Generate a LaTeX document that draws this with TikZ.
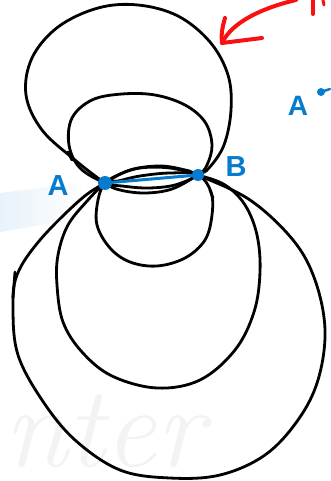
\documentclass[tikz,border=0pt]{standalone}
\usepackage{fontspec}
\setsansfont{Liberation Sans}
\begin{document}
\begin{tikzpicture}[x=1pt,y=-1pt,
  curve/.style={draw=black,line width=2.8pt,line cap=round,line join=round},
  bluepen/.style={draw=penblue,line width=3pt,line cap=round},
  redpen/.style={draw=penred,line width=4pt,line cap=round,line join=round},
  lbl/.style={text=penblue,font=\sffamily\bfseries\fontsize{29}{29}\selectfont,inner sep=0pt}]
\definecolor{penblue}{RGB}{8,124,204}
\definecolor{penred}{RGB}{250,16,16}
\definecolor{bandblue}{RGB}{232,242,250}
\definecolor{wm}{RGB}{243,243,243}
\useasboundingbox (0,0) rectangle (330,481);
\fill[white] (0,0) rectangle (330,481);
% faint band and watermark
\shade[left color=bandblue,right color=white] (0,193) -- (80,183) -- (85,218) -- (0,232) -- cycle;
\node[text=wm,font=\itshape\fontsize{115}{115}\selectfont,anchor=base west,inner sep=0pt] (wmark) at (4,466) {nter};
% points
\coordinate (A) at (105,183);
\coordinate (B) at (198,175);
% big top loop
\draw[curve] plot[smooth cycle,tension=0.6] coordinates {(105,183) (75,160) (42,130) (26,95) (32,58) (58,27) (98,8) (138,5) (178,16) (210,42) (228,75) (231,110) (224,145) (209,168) (198,175) (172,189) (145,193) (120,190)};
% medium top loop
\draw[curve] plot[smooth cycle,tension=0.6] coordinates {(105,183) (80,168) (69,145) (72,118) (92,100) (122,94) (155,95) (185,105) (205,122) (212,145) (207,165) (198,175) (175,185) (148,188) (122,186)};
% big bottom loop
\draw[curve] plot[smooth cycle,tension=0.6] coordinates {(105,183) (130,170) (160,166) (185,170) (198,175) (250,200) (293,240) (315,280) (325,330) (318,380) (298,420) (265,455) (220,475) (170,478) (120,470) (75,440) (42,400) (18,355) (13,310) (17,275) (40,240) (80,200)};
% medium bottom loop
\draw[curve] plot[smooth cycle,tension=0.6] coordinates {(105,183) (88,200) (68,225) (58,255) (57,285) (63,322) (82,352) (112,376) (157,388) (200,380) (235,350) (254,312) (260,272) (257,235) (245,205) (225,185) (198,175) (170,168) (140,168) (118,175)};
% small bottom loop
\draw[curve] plot[smooth cycle,tension=0.6] coordinates {(105,183) (98,200) (97,225) (110,248) (130,262) (157,266) (185,258) (205,240) (212,215) (211,192) (198,175) (170,173) (140,176) (118,181)};
% small strokes
\draw[curve] (15,272) -- (13,298);
\draw[curve] (68,152) -- (72,160);
\draw[curve] (210,190) -- (213,198);
% chord and points
\draw[bluepen] (A) -- (B);
\fill[penblue] (A) circle (7);
\fill[penblue] (B) circle (6);
\node[lbl] (la) at (58,186) {A};
\node[lbl] (lb) at (236,167) {B};
% second label
\node[lbl,font=\sffamily\bfseries\fontsize{28}{28}\selectfont] (la2) at (298,106) {A};
\fill[penblue] (321,92) circle (4);
\coordinate (dt) at (330,89);
\draw[bluepen,line width=2.5pt] (321,92) -- (dt);
% red arrow
\coordinate (rt) at (222,43);
\coordinate (rs) at (296,0);
\draw[redpen] (rs) .. controls (262,8) and (232,22) .. (rt);
\draw[redpen] (225,18) .. controls (222,28) and (221,36) .. (rt) -- (262,38);
\draw[redpen] (313,0) -- (313,14);
\draw[redpen,line width=3pt] (323,0) -- (324,5);
\end{tikzpicture}
\end{document}
